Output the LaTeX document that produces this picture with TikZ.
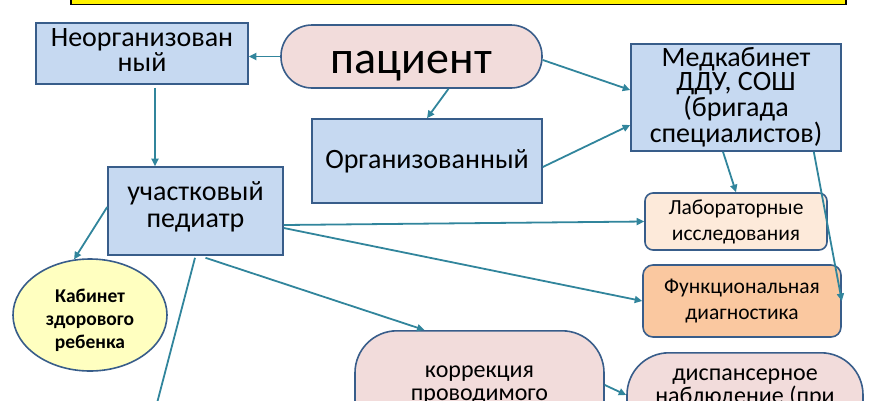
\documentclass[tikz,border=0pt]{standalone}
\usepackage{fontspec}
\setmainfont{Carlito}
\usetikzlibrary{arrows.meta,calc,shapes.geometric}
\definecolor{boxblue}{HTML}{C6D9F1}
\definecolor{edgeblue}{HTML}{385D8A}
\definecolor{pinkf}{HTML}{F2DCDB}
\definecolor{peach}{HTML}{FDEADA}
\definecolor{orangef}{HTML}{FAC8A0}
\definecolor{lyellow}{HTML}{FFFFC0}
\definecolor{arrowc}{HTML}{31859C}
\begin{document}
\begin{tikzpicture}[x=1pt,y=-1pt,
  bluebox/.style={draw=edgeblue, line width=1.6pt, fill=boxblue, inner sep=0pt, align=center, font=\fontsize{28}{25}\selectfont},
  rbox/.style={draw=edgeblue, line width=1.6pt, inner sep=0pt, align=center, font=\fontsize{21.5}{26}\selectfont},
  bigbox/.style={draw=edgeblue, line width=1.6pt, fill=pinkf, rounded corners=42pt, minimum height=120pt, anchor=north},
  bigtext/.style={anchor=north, align=center, inner sep=0pt, font=\fontsize{24}{23}\selectfont},
  conn/.style={draw=arrowc, line width=1.8pt, -{Triangle[length=7.5pt,width=7pt]}}]
\clip (0,0) rectangle (870,400);
\node[draw=black, line width=1.5pt, fill=yellow, minimum width=775pt, minimum height=40pt, anchor=south west, inner sep=0pt] (title) at (70,5) {};
\node[bluebox, minimum width=212pt, minimum height=61pt] (neorg) at (142,53.5) {Неорганизован\\ный\rule[-6pt]{0pt}{0pt}};
\node[draw=edgeblue, line width=1.6pt, fill=pinkf, rounded corners=31pt, minimum width=261pt, minimum height=63pt, inner sep=0pt, text height=33pt, text depth=0pt, font=\fontsize{46}{46}\selectfont] (pat) at (411.5,56.5) {пациент};
\node[bluebox, minimum width=230pt, minimum height=84pt] (org) at (427,161) {Организованный};
\node[bluebox, minimum width=210pt, minimum height=107pt, font=\fontsize{28}{24}\selectfont] (med) at (736,97.5) {Медкабинет\\ДДУ, СОШ\\(бригада\\специалистов)};
\node[bluebox, minimum width=175pt, minimum height=88pt, font=\fontsize{28}{27.5}\selectfont] (uch) at (195.5,211) {участковый\\педиатр\rule[-12.5pt]{0pt}{0pt}};
\node[ellipse, draw=edgeblue, line width=1.6pt, fill=lyellow, minimum width=154pt, minimum height=112pt, inner sep=0pt, align=center, font=\bfseries\fontsize{19.5}{23}\selectfont] (kab) at (90,315) {\rule{0pt}{24pt}Кабинет\\здорового\\ребенка};
\node[rbox, fill=peach, minimum width=182pt, minimum height=57pt, rounded corners=8pt] (lab) at (736,221.5) {Лабораторные\\исследования};
\node[rbox, fill=orangef, minimum width=198pt, minimum height=72pt, rounded corners=10pt] (func) at (742,301) {Функциональная\\диагностика};
\node[bigbox, minimum width=249pt] (korr) at (479.5,330) {};
\node[bigtext] (korrtext) at (479.5,359) {\rule{0pt}{18pt}коррекция\\проводимого};
\node[bigbox, minimum width=236pt] (disp) at (745,352) {};
\node[bigtext] (disptext) at (745,362) {\rule{0pt}{18pt}диспансерное\\наблюдение (при};
\coordinate (off) at (150,430);
% connectors
\draw[conn] (pat.west) -- (pat.west -| neorg.east);
\draw[conn] ([xshift=37pt]pat.south) -- (org.north);
\draw[conn] ([yshift=-3.5pt]pat.east) -- ([yshift=7.5pt]med.west);
\draw[conn] ([yshift=-6pt]org.east) -- ([yshift=-27.5pt]med.west);
\draw[conn] ([xshift=13pt,yshift=-3pt]neorg.south) coordinate (n1) -- (n1 |- uch.north);
\draw[conn] ([yshift=4pt]uch.west) -- (kab.106);
\draw[conn] ([yshift=-14pt]uch.east) -- (lab.west);
\draw[conn] ([yshift=-17pt]uch.east) -- (func.west);
\draw[conn] ([xshift=10pt,yshift=-2pt]uch.south) -- ([xshift=-55pt]korr.north);
\draw[conn] ([xshift=-0.5pt,yshift=-2pt]uch.south) -- (off);
\draw[conn] ([xshift=-13pt]med.south) -- (lab.north);
\draw[conn] ([xshift=-28pt]med.south east) -- (func.east);
\draw[conn] ([yshift=-55pt]korr.north east) -- ([yshift=-43pt]disp.north west);
\end{tikzpicture}
\end{document}
